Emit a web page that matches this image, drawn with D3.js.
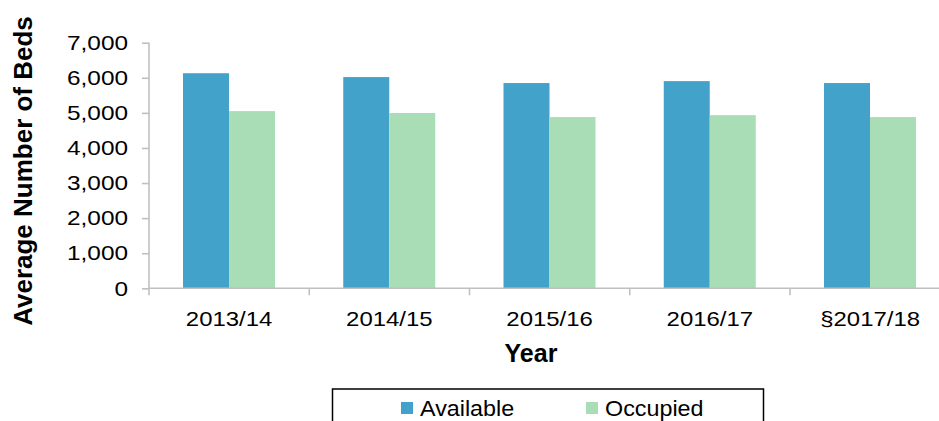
<!DOCTYPE html>
<html>
<head>
<meta charset="utf-8">
<script src="https://cdn.jsdelivr.net/npm/d3@7"></script>
<style>
  body { margin: 0; background: #fff; }
  text { font-family: "Liberation Sans", Arial, sans-serif; fill: #000; }
</style>
</head>
<body>
<svg id="svg"></svg>
<script>
const years = ['2013/14', '2014/15', '2015/16', '2016/17', '§2017/18'];
const series = ['Available', 'Occupied'];
const available = [6130, 6020, 5850, 5905, 5850];
const occupied = [5050, 4995, 4880, 4935, 4880];
const yTicks = [0, 1000, 2000, 3000, 4000, 5000, 6000, 7000];
const colors = ['#43a2ca', '#a8ddb5'];

const W = 939, H = 421;
const mLeft = 149, mTop = 42.7, mBottom = 288.3;
const bandW = 160.25;

const svg = d3.select('#svg').attr('width', W).attr('height', H);

const rows = years.map((yr, i) => ({year: yr, values: [available[i], occupied[i]]}));

const x0 = d3.scaleBand().domain(years).range([mLeft, mLeft + bandW * years.length]);
const x1 = d3.scaleBand().domain(series).range([34, 126]);
const y = d3.scaleLinear().domain([0, 7000]).range([mBottom, mTop]);

// the source picture has its labels a bit wider than the font
function widen(sel, k) {
  sel.each(function() {
    const L = this.getComputedTextLength();
    d3.select(this).attr('textLength', L * k).attr('lengthAdjust', 'spacingAndGlyphs');
  });
}

// y axis
const yAxis = svg.append('g')
  .attr('transform', `translate(${mLeft},0)`)
  .call(d3.axisLeft(y).tickValues(yTicks).tickSize(7).tickPadding(14)
    .tickFormat(d3.format(',')));
yAxis.select('.domain').attr('stroke', '#c0c0c0').attr('stroke-width', 1.6)
  .attr('d', `M0,${mTop}V${mBottom}`);
yAxis.selectAll('.tick line').attr('stroke', '#c0c0c0').attr('stroke-width', 1.6);
yAxis.selectAll('.tick text').style('font-size', '21px').call(widen, 1.16);

// bars
const groups = svg.append('g').selectAll('g')
  .data(rows)
  .enter().append('g')
  .attr('transform', d => `translate(${x0(d.year)},0)`);

groups.selectAll('rect')
  .data(d => d.values.map((v, i) => ({key: series[i], value: v, i})))
  .enter().append('rect')
  .attr('x', d => x1(d.key))
  .attr('width', x1.bandwidth())
  .attr('y', d => y(d.value))
  .attr('height', d => mBottom - y(d.value))
  .attr('fill', d => colors[d.i]);

// x axis
const xAxis = svg.append('g').attr('transform', `translate(0,${mBottom})`);
xAxis.append('line')
  .attr('x1', mLeft).attr('x2', W)
  .attr('stroke', '#c0c0c0').attr('stroke-width', 1.6);
xAxis.selectAll('line.tk')
  .data(years.concat(['end']))
  .enter().append('line')
  .attr('class', 'tk')
  .attr('x1', (d, i) => mLeft + i * bandW)
  .attr('x2', (d, i) => mLeft + i * bandW)
  .attr('y1', 0).attr('y2', 7)
  .attr('stroke', '#c0c0c0').attr('stroke-width', 1.6);
xAxis.selectAll('text')
  .data(years)
  .enter().append('text')
  .attr('x', d => x0(d) + x0.bandwidth() / 2)
  .attr('y', 38)
  .attr('text-anchor', 'middle')
  .style('font-size', '21px')
  .text(d => d)
  .call(widen, 1.14);

// axis titles
svg.append('text')
  .attr('x', 531).attr('y', 362)
  .attr('text-anchor', 'middle')
  .style('font-size', '25px').style('font-weight', 'bold')
  .text('Year');

svg.append('text')
  .attr('transform', 'translate(32,171) rotate(-90)')
  .attr('text-anchor', 'middle')
  .style('font-size', '26px').style('font-weight', 'bold')
  .text('Average Number of Beds');

// legend
const legend = svg.append('g');
legend.append('rect')
  .attr('x', 332.5).attr('y', 389)
  .attr('width', 431).attr('height', 60)
  .attr('fill', 'none').attr('stroke', '#000').attr('stroke-width', 1.5);

const legendX = [401, 586];
const items = legend.selectAll('g.item')
  .data(series)
  .enter().append('g')
  .attr('class', 'item')
  .attr('transform', (d, i) => `translate(${legendX[i]},402)`);
items.append('rect')
  .attr('width', 12).attr('height', 12)
  .attr('fill', (d, i) => colors[i]);
items.append('text')
  .attr('x', 19).attr('y', 14)
  .style('font-size', '22px')
  .text(d => d)
  .call(widen, 1.06);
</script>
</body>
</html>
